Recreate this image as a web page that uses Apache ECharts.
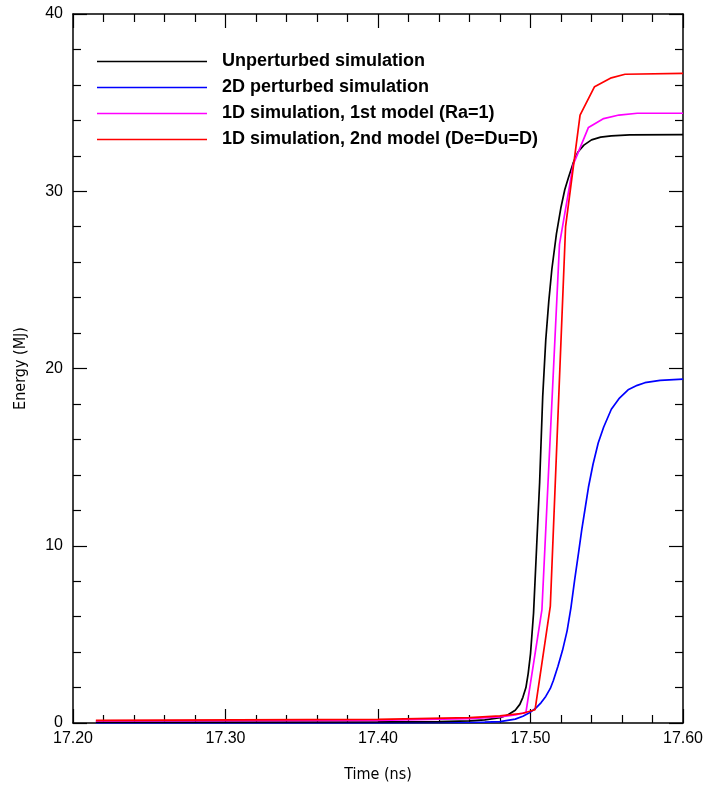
<!DOCTYPE html>
<html>
<head>
<meta charset="utf-8">
<script src="https://cdn.jsdelivr.net/npm/echarts@6/dist/echarts.min.js"></script>
<style>html,body{margin:0;padding:0;background:#fff;}#c{width:704px;height:792px;}</style>
</head>
<body>
<div id="c"></div>
<script>
const seriesNames = [
  "Unperturbed simulation",
  "2D perturbed simulation",
  "1D simulation, 1st model (Ra=1)",
  "1D simulation, 2nd model (De=Du=D)"
];
const unperturbed = [
  [17.215,0.05],[17.30,0.05],[17.40,0.06],[17.44,0.08],[17.46,0.12],[17.47,0.18],
  [17.48,0.3],[17.485,0.45],[17.49,0.72],[17.493,1.05],[17.495,1.45],[17.497,2.0],
  [17.4985,2.8],[17.500,3.9],[17.502,6.2],[17.504,9.9],[17.506,13.6],[17.508,18.4],
  [17.510,21.6],[17.512,23.8],[17.514,25.6],[17.517,27.6],[17.520,29.1],[17.5225,30.1],
  [17.525,30.8],[17.528,31.6],[17.531,32.2],[17.535,32.6],[17.540,32.9],[17.546,33.05],
  [17.553,33.12],[17.565,33.18],[17.600,33.2]
];
const perturbed2D = [
  [17.215,0.0],[17.40,0.0],[17.46,0.03],[17.47,0.05],[17.48,0.08],[17.49,0.22],
  [17.495,0.38],[17.499,0.56],[17.503,0.8],[17.507,1.15],[17.51,1.5],[17.513,1.95],
  [17.515,2.4],[17.518,3.2],[17.521,4.1],[17.524,5.2],[17.5265,6.5],[17.529,8.1],
  [17.5315,9.6],[17.5336,10.9],[17.536,12.2],[17.538,13.3],[17.541,14.6],[17.5444,15.8],
  [17.548,16.7],[17.553,17.7],[17.558,18.3],[17.564,18.8],[17.57,19.05],[17.575,19.2],
  [17.585,19.33],[17.600,19.4]
];
const model1 = [
  [17.215,0.12],[17.40,0.15],[17.46,0.25],[17.48,0.35],[17.49,0.45],[17.497,0.6],
  [17.498,0.7],[17.5075,6.4],[17.519,27.0],[17.528,31.5],[17.538,33.6],[17.548,34.1],
  [17.558,34.3],[17.57,34.4],[17.60,34.4]
];
const model2 = [
  [17.215,0.15],[17.40,0.2],[17.46,0.3],[17.48,0.4],[17.495,0.55],[17.503,0.75],
  [17.513,6.6],[17.523,28.0],[17.5325,34.3],[17.542,35.9],[17.553,36.4],
  [17.562,36.6],[17.60,36.65]
];
const xTicks = [17.2, 17.3, 17.4, 17.5, 17.6];
const yTicks = [0, 10, 20, 30, 40];

const chart = echarts.init(document.getElementById('c'), null, {renderer:'canvas'});
const tickFont = {fontFamily:'Liberation Sans', fontSize:16, color:'#000'};
const axisCommon = {
  axisLine:{show:true, onZero:false, lineStyle:{color:'#000', width:1.5}},
  axisTick:{show:true, inside:true, length:14, lineStyle:{color:'#000', width:1.2}},
  minorTick:{show:true, splitNumber:5, length:8, lineStyle:{color:'#000', width:1.2}},
  splitLine:{show:false}, minorSplitLine:{show:false}
};
function mk(name, data, color, z){
  return {name, type:'line', data, symbol:'none', showSymbol:false, z,
    lineStyle:{color, width:1.7}, itemStyle:{color}, smooth:false, animation:false};
}
const s0 = mk(seriesNames[0], unperturbed, '#000000', 3);
const s1 = mk(seriesNames[1], perturbed2D, '#0000ff', 2);
const s2 = mk(seriesNames[2], model1, '#ff00ff', 4);
const s3 = mk(seriesNames[3], model2, '#ff0000', 5);

chart.setOption({
  animation:false,
  backgroundColor:'#fff',
  grid:{left:73, right:21, top:14, bottom:69, containLabel:false, outerBoundsMode:'none'},
  legend:{
    data:seriesNames, orient:'vertical', left:97, top:51.5, padding:0,
    icon:'rect', itemWidth:110, itemHeight:1.7, itemGap:6,
    textStyle:{fontFamily:'Liberation Sans', fontWeight:'bold', fontSize:18, lineHeight:20,
      color:'#000', padding:[0,0,0,10]},
    selectedMode:false
  },
  xAxis:[
    Object.assign({type:'value', position:'bottom', min:xTicks[0], max:xTicks[xTicks.length-1], interval:0.1,
      name:'Time (ns)', nameLocation:'middle', nameGap:44,
      nameTextStyle:{fontFamily:'DejaVu Sans Condensed', fontSize:16, color:'#000'},
      axisLabel:Object.assign({margin:8, formatter:v=>v.toFixed(2)}, tickFont)}, axisCommon),
    Object.assign({type:'value', position:'top', min:xTicks[0], max:xTicks[xTicks.length-1], interval:0.1,
      axisLabel:{show:false}}, axisCommon)
  ],
  yAxis:[
    Object.assign({type:'value', position:'left', min:yTicks[0], max:yTicks[yTicks.length-1], interval:10,
      name:'Energy (MJ)', nameLocation:'middle', nameGap:44,
      nameTextStyle:{fontFamily:'DejaVu Sans Condensed', fontSize:16, color:'#000'},
      axisLabel:Object.assign({margin:10}, tickFont)}, axisCommon),
    Object.assign({type:'value', position:'right', min:yTicks[0], max:yTicks[yTicks.length-1], interval:10,
      axisLabel:{show:false}}, axisCommon)
  ],
  series:[s1, s0, s2, s3]
});
</script>
</body>
</html>
